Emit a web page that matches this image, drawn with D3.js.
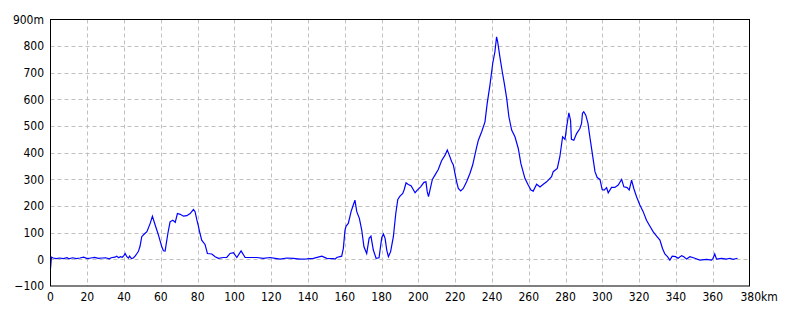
<!DOCTYPE html>
<html><head><meta charset="utf-8">
<script src="https://cdn.jsdelivr.net/npm/d3@7"></script>
<style>
html,body{margin:0;padding:0;background:#fff;}
text{font-family:"Liberation Sans Narrow","Arial Narrow","DejaVu Sans Condensed",sans-serif;font-size:12px;fill:#000;}
</style></head>
<body>
<svg id="c" width="790" height="316"></svg>
<script>
const distanceKm = [0,0.5,1.5,3,5,7,9,10,12,14,16,18,20,22,24,26,28,30,32,33,35,36,37,38,39,40,40.6,41.5,42.4,43,44,45,46,47,47.8,48.7,49.6,51,52.4,54.2,55.4,56.9,58.7,60.5,61.4,62.3,63.8,65,66.5,67.8,69,70.5,72.3,74.1,75.9,77.7,78.6,79.5,80.4,81,82.2,84,85.3,87.7,89.5,91.3,94,95.8,97.6,99.4,101.3,103.6,105.8,108.5,112.1,115.7,119.4,122.1,124.8,128.4,132,135.7,139.3,142.9,147.5,150.2,153.8,154.7,155.6,158.3,159.2,160.1,160.7,161.9,163.4,164.6,165.5,166.5,167.9,169.2,170.4,171.9,173.2,174.2,175.5,177,178.6,180.1,181,181.9,182.8,183.7,184.9,186.4,187.7,188.8,190,191.5,192.3,193.3,194.5,196,198.2,199.4,201.2,203,204.1,204.8,205.5,206.5,207.6,209,210.8,212.6,214.5,215.7,216.8,218.1,219,219.9,220.8,221.7,223,224.4,226.2,228,229.5,230.7,231.7,232.6,234.4,236.2,237.4,238.9,240.4,241.6,242.5,243.1,244.3,245.6,246.7,248,249.2,250.7,252.5,254.3,255.7,257.9,259.7,261.2,262.4,264.3,266.1,267.9,269.7,272.4,273.3,275.5,276.9,278.4,279.7,280.6,281.8,282.7,283.2,284.5,286,287.8,288.7,289.2,289.9,291,292.2,293.2,294.4,296,297.2,298.7,299.9,301,302.3,303.2,305,306.8,308.6,310.5,311.7,313.5,314.6,315.9,317.1,318.6,320.4,322.2,324,325.8,327.6,329.5,331.3,332.7,334,335.4,336.7,338,339.8,341.2,343.1,344.3,345.8,347.6,350.3,353,356.6,359.4,360.2,361.1,362.1,364.8,367.5,369.3,371.1,373.5];
const elevationM = [-35,8,5,3,5,3,6,2,6,3,5,8,3,5,7,4,5,6,2,6,8,12,6,10,8,15,22,10,5,12,3,5,12,22,30,50,85,95,104,135,162,129,91,47,32,31,97,141,147,139,172,169,162,164,172,187,179,150,125,105,72,56,22,20,10,4,7,7,22,25,7,32,7,7,7,4,7,4,1,5,4,1,2,4,12,4,3,1,7,12,41,110,125,135,179,204,222,179,154,110,47,22,79,87,35,4,6,82,95,79,35,10,29,85,172,225,237,247,262,287,281,276,250,260,272,289,291,254,235,266,300,316,337,370,391,410,391,366,354,322,291,266,257,266,291,322,354,391,422,447,479,516,585,654,735,779,835,816,760,704,660,604,535,485,460,416,360,304,279,260,256,282,272,282,291,310,329,341,385,460,450,497,550,522,450,447,472,491,510,548,554,541,510,460,404,329,307,300,262,260,269,250,270,270,279,300,272,269,260,297,266,235,204,179,147,125,104,87,72,41,20,10,-3,12,10,4,14,10,1,10,4,-3,0,-3,4,20,1,4,1,4,0,4];
const xTicks = [0,20,40,60,80,100,120,140,160,180,200,220,240,260,280,300,320,340,360,380];
const yTicks = [-100,0,100,200,300,400,500,600,700,800,900];

const svg = d3.select("#c");
const x = d3.scaleLinear().domain([0,380]).range([50.5,749.5]);
const y = d3.scaleLinear().domain([-100,900]).range([286,19.5]);

// grid
const g = svg.append("g");
g.selectAll("line.vg").data(xTicks.filter(d=>d>0 && d<380)).join("line")
  .attr("x1",d=>Math.round(x(d))+0.5).attr("x2",d=>Math.round(x(d))+0.5)
  .attr("y1",y(900)).attr("y2",y(-100))
  .attr("stroke","#c0c0c0").attr("stroke-dasharray","4,3").attr("stroke-width",1);
g.selectAll("line.hg").data(yTicks.filter(d=>d>-100 && d<900)).join("line")
  .attr("y1",d=>Math.round(y(d))+0.5).attr("y2",d=>Math.round(y(d))+0.5)
  .attr("x1",x(0)).attr("x2",x(380))
  .attr("stroke","#c0c0c0").attr("stroke-dasharray","4,3").attr("stroke-width",1);

// line
const line = d3.line().x((d,i)=>x(distanceKm[i])).y(d=>y(d));
svg.append("path").datum(elevationM).attr("d",line)
  .attr("fill","none").attr("stroke","#0000ff").attr("stroke-width",1.2)
  .attr("stroke-linejoin","miter");

// frame
svg.append("rect").attr("x",50.5).attr("y",19.5).attr("width",699).attr("height",266.5)
  .attr("fill","none").attr("stroke","#000").attr("stroke-width",1);

// y labels
svg.selectAll("text.yl").data(yTicks).join("text")
  .attr("x",44).attr("y",d=>y(d)).attr("dy","0.35em").attr("text-anchor","end")
  .text(d=>d===900?"900m":String(d).replace("-","\u2212"));
// x labels
svg.selectAll("text.xl").data(xTicks).join("text")
  .attr("x",d=>x(d)).attr("y",297).attr("dy","0.35em")
  .attr("text-anchor",d=>d===380?"start":"middle")
  .attr("dx",d=>d===380?-9:0)
  .text(d=>d===380?"380km":String(d));
</script>
</body></html>
